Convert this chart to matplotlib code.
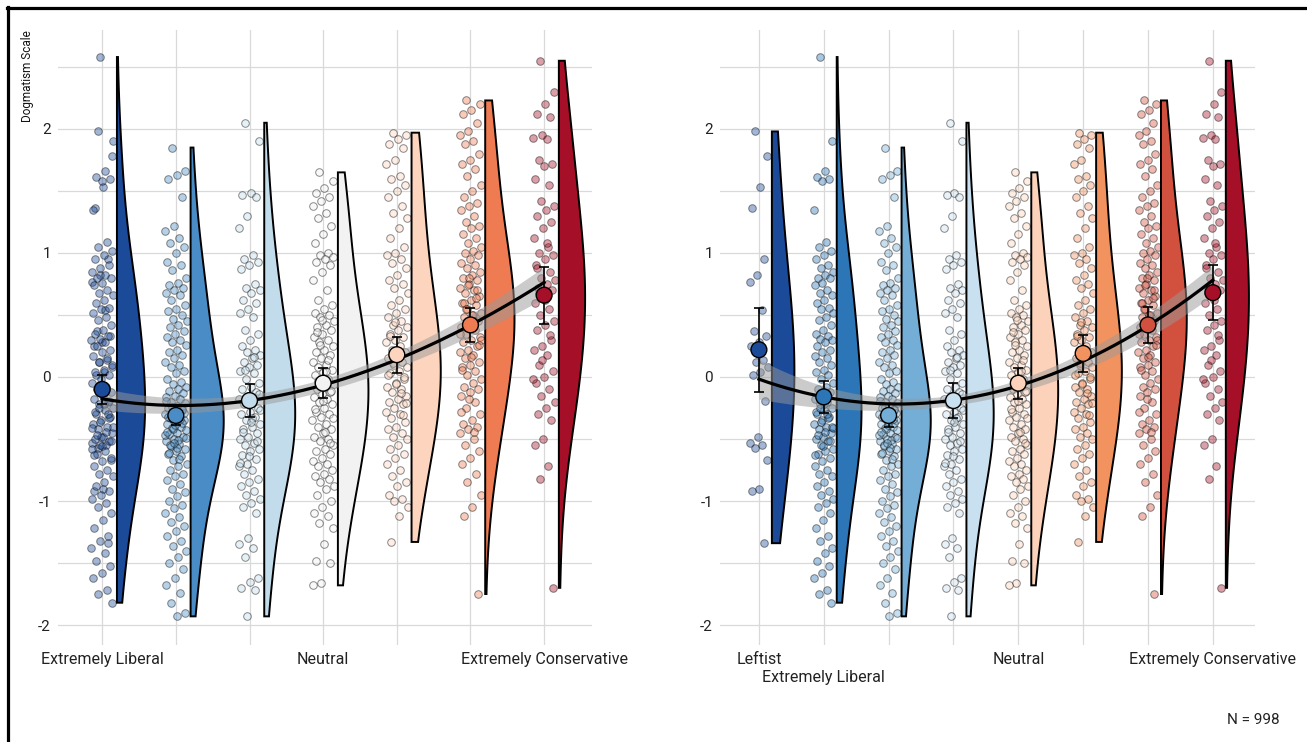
import numpy as np
import matplotlib
matplotlib.use("Agg")
import matplotlib.pyplot as plt
from matplotlib.lines import Line2D

plt.rcParams['font.family'] = ['Roboto', 'DejaVu Sans']

# --- données (échelle de dogmatisme par groupe) ---
leftist = [1.98, 1.78, 1.53, 1.36, 0.95, 0.82, 0.77, 0.54, 0.37, 0.33, 0.28, 0.25, 0.14,
           0.12, 0.08, 0.04, 0.02, -0.19, -0.48, -0.53, -0.55, -0.57, -0.67, -0.90, -0.92, -1.34]

ext_lib = [2.58, 1.90, 1.66, 1.61, 1.60, 1.58, 1.35, 1.09, 1.05, 1.02, 0.98, 0.95, 0.90, 0.88,
           0.85, 0.82, 0.80, 0.80, 0.76, 0.74, 0.70, 0.68, 0.66, 0.62, 0.60, 0.56, 0.55, 0.52,
           0.48, 0.46, 0.42, 0.38, 0.35, 0.33, 0.31, 0.30, 0.28, 0.25, 0.22, 0.20, 0.17, 0.15,
           0.12, 0.10, 0.06, 0.04, 0.02, -0.02, -0.05, -0.08, -0.10, -0.12, -0.15, -0.18, -0.20,
           -0.22, -0.25, -0.27, -0.30, -0.32, -0.35, -0.38, -0.40, -0.42, -0.45, -0.48, -0.50,
           -0.52, -0.55, -0.58, -0.60, -0.62, -0.65, -0.68, -0.72, -0.75, -0.78, -0.80, -0.85,
           -0.88, -0.92, -0.95, -0.98, -1.02, -1.05, -1.10, -1.15, -1.22, -1.28, -1.32, -1.38,
           -1.42, -1.48, -1.52, -1.58, -1.62, -1.72, -1.75, -1.82, -0.22, -0.28, -0.33, -0.36,
           -0.41, -0.44, -0.47, -0.52, -0.56, -0.63, -0.30, -0.25, -0.40]

liberal = [1.85, 1.66, 1.63, 1.60, 1.45, 1.22, 1.18, 1.12, 1.08, 1.05, 1.00, 0.93, 0.90, 0.86,
           0.80, 0.76, 0.74, 0.72, 0.70, 0.68, 0.66, 0.62, 0.58, 0.55, 0.53, 0.50, 0.47, 0.45,
           0.42, 0.40, 0.37, 0.35, 0.32, 0.30, 0.28, 0.26, 0.22, 0.20, 0.18, 0.15, 0.12, 0.10,
           0.08, 0.05, 0.03, -0.02, -0.04, -0.06, -0.08, -0.10, -0.11, -0.13, -0.15, -0.16, -0.18,
           -0.20, -0.21, -0.23, -0.25, -0.26, -0.28, -0.30, -0.31, -0.33, -0.35, -0.36, -0.38,
           -0.40, -0.41, -0.43, -0.45, -0.46, -0.48, -0.50, -0.52, -0.54, -0.56, -0.58, -0.60,
           -0.62, -0.64, -0.67, -0.70, -0.72, -0.75, -0.78, -0.80, -0.83, -0.86, -0.90, -0.93,
           -0.96, -1.00, -1.03, -1.06, -1.10, -1.13, -1.17, -1.20, -1.24, -1.28, -1.32, -1.36,
           -1.40, -1.45, -1.50, -1.55, -1.62, -1.68, -1.74, -1.82, -1.90, -1.93, -0.32, -0.37,
           -0.42, -0.47, -0.51, -0.55, -0.29, -0.39, -0.44, -0.34, -0.24, -0.49, -0.57, -0.61,
           -0.27, -0.53, -0.19, -0.66]

sl_lib = [2.05, 1.90, 1.48, 1.47, 1.45, 1.30, 1.20, 0.98, 0.95, 0.93, 0.90, 0.87, 0.75, 0.72,
          0.70, 0.68, 0.62, 0.60, 0.55, 0.52, 0.48, 0.38, 0.35, 0.30, 0.25, 0.22, 0.20, 0.18,
          0.15, 0.12, 0.10, 0.08, 0.05, 0.03, -0.02, -0.05, -0.08, -0.10, -0.12, -0.15, -0.18,
          -0.20, -0.22, -0.25, -0.28, -0.30, -0.32, -0.35, -0.38, -0.40, -0.42, -0.45, -0.48,
          -0.50, -0.53, -0.55, -0.58, -0.60, -0.63, -0.66, -0.70, -0.72, -0.75, -0.78, -0.82,
          -0.85, -0.88, -0.92, -0.95, -0.98, -1.02, -1.05, -1.10, -1.30, -1.35, -1.38, -1.45,
          -1.62, -1.65, -1.70, -1.72, -1.93, -0.27, -0.33, -0.44, -0.52, -0.64, -0.69, 0.16,
          0.06, -0.14, -0.36]

neutral = [1.65, 1.58, 1.52, 1.48, 1.45, 1.42, 1.38, 1.32, 1.28, 1.22, 1.15, 1.08, 1.00, 0.98,
           0.97, 0.95, 0.93, 0.90, 0.85, 0.78, 0.70, 0.62, 0.58, 0.55, 0.52, 0.50, 0.48, 0.45,
           0.42, 0.40, 0.38, 0.35, 0.32, 0.30, 0.28, 0.25, 0.22, 0.20, 0.18, 0.15, 0.12, 0.10,
           0.08, 0.06, 0.04, 0.02, -0.02, -0.04, -0.06, -0.08, -0.10, -0.12, -0.14, -0.16,
           -0.18, -0.20, -0.22, -0.25, -0.28, -0.30, -0.32, -0.35, -0.38, -0.40, -0.42, -0.45,
           -0.48, -0.50, -0.52, -0.55, -0.58, -0.60, -0.62, -0.65, -0.68, -0.70, -0.72, -0.75,
           -0.78, -0.80, -0.82, -0.85, -0.88, -0.90, -0.95, -1.00, -1.05, -1.10, -1.12, -1.18,
           -1.22, -1.35, -1.48, -1.50, -1.66, -1.68, 0.05, -0.03, -0.11, -0.19, -0.26, 0.14,
           0.26, -0.33, -0.44, 0.36, -0.53, 0.46]

sl_cons = [1.97, 1.95, 1.92, 1.88, 1.85, 1.75, 1.72, 1.62, 1.60, 1.55, 1.50, 1.45, 1.38, 1.32,
           1.28, 1.20, 1.12, 1.05, 1.00, 0.98, 0.95, 0.92, 0.88, 0.82, 0.78, 0.75, 0.72, 0.68,
           0.62, 0.58, 0.55, 0.52, 0.48, 0.45, 0.42, 0.40, 0.38, 0.35, 0.32, 0.30, 0.28, 0.25,
           0.22, 0.20, 0.18, 0.15, 0.12, 0.10, 0.08, 0.05, 0.03, -0.02, -0.05, -0.08, -0.10,
           -0.12, -0.15, -0.18, -0.20, -0.22, -0.25, -0.28, -0.30, -0.33, -0.36, -0.40, -0.42,
           -0.45, -0.48, -0.50, -0.55, -0.58, -0.62, -0.65, -0.70, -0.75, -0.80, -0.85, -0.88,
           -0.95, -0.98, -1.00, -1.05, -1.12, -1.33, 0.00, -0.06, 0.02, -0.13, 0.11, -0.21, 0.21,
           0.33, -0.31, 0.44]

cons = [2.23, 2.20, 2.15, 2.12, 2.05, 1.98, 1.95, 1.90, 1.88, 1.80, 1.75, 1.72, 1.68, 1.62,
        1.55, 1.50, 1.45, 1.40, 1.38, 1.35, 1.30, 1.25, 1.22, 1.20, 1.15, 1.12, 1.08, 1.05,
        1.02, 1.00, 0.98, 0.95, 0.92, 0.90, 0.88, 0.85, 0.82, 0.80, 0.78, 0.75, 0.72, 0.70,
        0.68, 0.65, 0.62, 0.60, 0.58, 0.55, 0.52, 0.50, 0.48, 0.45, 0.42, 0.40, 0.38, 0.35,
        0.32, 0.30, 0.28, 0.25, 0.22, 0.20, 0.18, 0.15, 0.12, 0.10, 0.08, 0.05, 0.02, 0.30,
        0.50, 0.60, 0.70, 0.80, 0.35, 0.45, 0.55, 0.26, 0.16, 0.06, 0.64, 0.74, -0.02, -0.05,
        -0.08, -0.10, -0.12, -0.15, -0.20, -0.25, -0.30, -0.35, -0.38, -0.40, -0.42, -0.45,
        -0.50, -0.55, -0.60, -0.65, -0.70, -0.78, -0.85, -0.95, -1.05, -1.12, -1.75, -0.18,
        -0.28, -0.44]

ext_cons = [2.55, 2.30, 2.20, 2.12, 2.10, 1.95, 1.93, 1.92, 1.75, 1.72, 1.70, 1.60, 1.55, 1.42,
            1.38, 1.35, 1.30, 1.25, 1.20, 1.12, 1.05, 1.00, 0.98, 0.95, 0.90, 0.85, 0.80, 0.78,
            0.75, 0.72, 0.70, 0.65, 0.60, 0.55, 0.50, 0.45, 0.42, 0.38, 0.30, 0.25, 0.22, 0.18,
            0.10, 0.05, 0.00, -0.05, -0.10, -0.15, -0.20, -0.25, -0.30, -0.35, -0.50, -0.55,
            -0.72, -0.82, -1.70, 0.62, 0.88, 0.34, 0.14, -0.02, 1.08, 0.68]

# moyennes, IC 95 % et ajustement
means_left = [-0.10, -0.31, -0.19, -0.05, 0.18, 0.42, 0.66]
ci_left = [0.12, 0.08, 0.13, 0.12, 0.145, 0.135, 0.23]
fit_left = [-0.18, -0.22, -0.19, -0.08, 0.15, 0.42, 0.76]
band_left = [0.09, 0.055, 0.05, 0.055, 0.065, 0.08, 0.13]

means_right = [0.22, -0.16, -0.31, -0.19, -0.05, 0.19, 0.42, 0.68]
ci_right = [0.34, 0.13, 0.09, 0.14, 0.125, 0.15, 0.145, 0.22]
fit_right = [-0.02, -0.16, -0.21, -0.18, -0.09, 0.12, 0.44, 0.77]
band_right = [0.17, 0.07, 0.05, 0.05, 0.06, 0.07, 0.08, 0.13]

labels_left = ["Extremely Liberal", "", "", "Neutral", "", "", "Extremely Conservative"]
labels_right = ["Leftist", "", "", "", "Neutral", "", "", "Extremely Conservative"]
label_right_2nd_row = "Extremely Liberal"

colors_left = ["#1B4A99", "#4A8CC5", "#C2DCEC", "#F2F2F2", "#FDD5BF", "#EE7B52", "#A50F27"]
colors_right = ["#1B4A99", "#2C75B6", "#74ADD5", "#C8E0EF", "#FDD2BA", "#F2925F", "#D2513E", "#A50F27"]

groups_left = [leftist + ext_lib, liberal, sl_lib, neutral, sl_cons, cons, ext_cons]
groups_right = [leftist, ext_lib, liberal, sl_lib, neutral, sl_cons, cons, ext_cons]


def kde(vals, adjust=1.6):
    v = np.asarray(vals)
    sd = v.std(ddof=1)
    iqr = np.subtract(*np.percentile(v, [75, 25]))
    bw = 0.9 * min(sd, iqr / 1.34) * len(v) ** -0.2 * adjust
    grid = np.linspace(v.min(), v.max(), 300)
    dens = np.exp(-0.5 * ((grid[:, None] - v[None, :]) / bw) ** 2).sum(axis=1)
    dens /= len(v) * bw * np.sqrt(2 * np.pi)
    return grid, dens


def raincloud(ax, groups, colors, means, ci, fit, band, labels, xmax):
    pos = np.arange(1, len(groups) + 1)
    dens_all = [kde(g) for g in groups]
    dmax = max(d.max() for _, d in dens_all)
    for i, (g, c) in enumerate(zip(groups, colors)):
        x0 = pos[i]
        # jitter déterministe
        jit = ((np.arange(len(g)) * 0.6180339887 + 0.31) % 1 - 0.5) * 0.3
        ax.scatter(x0 + jit, g, s=30, facecolor=matplotlib.colors.to_rgba(c, 0.4),
                   edgecolor=(0, 0, 0, 0.45), linewidth=0.7, zorder=2)
        grid, d = dens_all[i]
        w = d / dmax * 0.45
        xs = np.concatenate([[x0 + 0.2], x0 + 0.2 + w, [x0 + 0.2]])
        ys = np.concatenate([[grid[0]], grid, [grid[-1]]])
        ax.fill(xs, ys, facecolor=c, edgecolor="black", linewidth=1.4, zorder=3)
    xx = np.linspace(1, len(groups), 200)
    line = np.polyval(np.polyfit(pos, fit, 3), xx)
    hw = np.polyval(np.polyfit(pos, band, 3), xx)
    ax.fill_between(xx, line - hw, line + hw, color="#999999", alpha=0.5, linewidth=0, zorder=4)
    ax.plot(xx, line, color="black", linewidth=2.3, zorder=5)
    ax.errorbar(pos, means, yerr=ci, fmt="none", ecolor="black", elinewidth=1.2,
                capsize=3.5, capthick=1.2, zorder=6)
    ax.scatter(pos, means, s=130, c=colors, edgecolor="black", linewidth=1.0, zorder=7)

    ax.set_xlim(0.4, xmax)
    ax.set_ylim(-2.161, 2.798)
    ax.set_xticks(pos)
    ax.set_xticklabels(labels, fontsize=11.5, color="#222222")
    ax.set_yticks([-2, -1, 0, 1, 2])
    ax.set_yticklabels(["-2", "-1", "0", "1", "2"], fontsize=11, color="#222222")
    ax.set_yticks([-1.5, -0.5, 0.5, 1.5, 2.5], minor=True)
    ax.tick_params(axis="both", which="both", length=0)
    ax.tick_params(axis="x", pad=5)
    ax.tick_params(axis="y", pad=5)
    ax.grid(True, which="major", color="#D9D9D9", linewidth=0.9, zorder=0)
    ax.grid(True, which="minor", axis="y", color="#D9D9D9", linewidth=0.9, zorder=0)
    ax.set_axisbelow(True)
    for s in ax.spines.values():
        s.set_visible(False)


fig = plt.figure(figsize=(13.07, 7.42), dpi=100)
ax1 = fig.add_axes([58 / 1307, 97 / 742, 534 / 1307, 615 / 742])
ax2 = fig.add_axes([720 / 1307, 97 / 742, 535 / 1307, 615 / 742])

raincloud(ax1, groups_left, colors_left, means_left, ci_left, fit_left, band_left, labels_left, 7.65)
raincloud(ax2, groups_right, colors_right, means_right, ci_right, fit_right, band_right, labels_right, 8.65)

# deuxième rangée d'étiquettes (panneau de droite)
ax2.annotate(label_right_2nd_row, xy=(2, 0), xycoords=("data", "axes fraction"),
             xytext=(0, -18), textcoords="offset points", ha="center", va="top",
             fontsize=11.5, color="#222222")

fig.text(28 / 1307, 1 - 30 / 742, "Dogmatism Scale", rotation=90, ha="center", va="top",
         fontsize=8.5, color="#111111")
fig.text(1253 / 1307, 1 - 720 / 742, "N = 998", ha="center", va="center", fontsize=11,
         color="#222222")

# cadre noir en haut et à gauche
fig.add_artist(Line2D([7 / 1307, 1], [1 - 8 / 742, 1 - 8 / 742], color="black", linewidth=2.3))
fig.add_artist(Line2D([8 / 1307, 8 / 1307], [0, 1 - 7 / 742], color="black", linewidth=2.3))

fig.savefig("out.png", dpi=100)
